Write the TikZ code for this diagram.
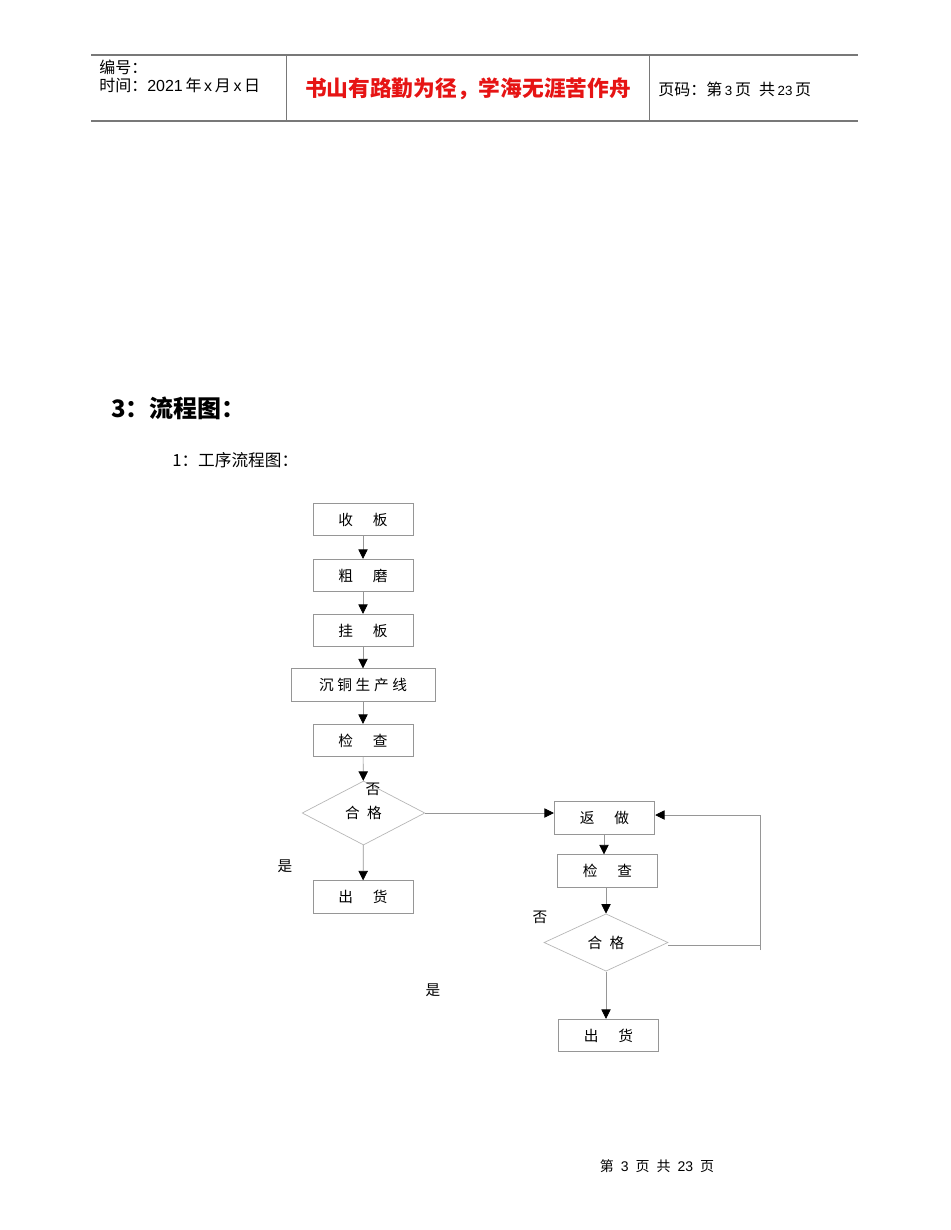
\documentclass[tikz,border=0pt]{standalone}
\usepackage{fontspec}
\setmainfont{Noto Sans CJK SC}
\newfontfamily\lat{Liberation Sans}
\usetikzlibrary{shapes.geometric,arrows.meta}
\definecolor{linegray}{RGB}{150,150,150}
\definecolor{hdrred}{RGB}{230,20,20}
\tikzset{
  px/.style={x=0.75pt,y=-0.75pt},
  stepbox/.style={draw=linegray,line width=0.6pt,minimum height=24.5pt,inner sep=0pt,font=\fontsize{11}{13}\selectfont},
  decis/.style={diamond,draw=linegray!70,line width=0.5pt,inner sep=0pt,font=\fontsize{11}{13}\selectfont},
  flow/.style={draw=linegray,line width=0.5pt,-{Triangle[length=7pt,width=7pt,color=black]}},
  plain/.style={draw=linegray,line width=0.5pt},
  lbl/.style={inner sep=0pt,font=\fontsize{11}{13}\selectfont},
  hdr/.style={inner sep=0pt,anchor=west,font=\fontsize{12}{14}\selectfont}
}
\begin{document}
\begin{tikzpicture}[px]
\useasboundingbox[fill=white] (0,0) rectangle (950,1230);
% header
\draw[linegray!80!black,line width=1pt] (91,55) -- (858,55);
\draw[linegray!80!black,line width=1pt] (91,121) -- (858,121);
\draw[linegray!80!black,line width=0.6pt] (286,55) -- (286,121);
\draw[linegray!80!black,line width=0.6pt] (649,55) -- (649,121);
\node[hdr] (h1) at (99,67) {编号：};
\node[hdr] (h2) at (99,85) {时间：{\lat 2021}\,年\,{\lat x}\,月\,{\lat x}\,日};
\node[inner sep=0pt,text=hdrred,font=\fontsize{16.3}{19}\selectfont\bfseries] (h3) at (468,89) {书山有路勤为径，学海无涯苦作舟};
\node[hdr] (h4) at (658,89) {页码：第\,{\lat\fontsize{10}{12}\selectfont 3}\,页\hspace{0.5em}共\,{\lat\fontsize{10}{12}\selectfont 23}\,页};
% headings
\node[inner sep=0pt,anchor=west,font=\fontsize{18}{22}\selectfont\bfseries] (t1) at (111,408) {3：流程图：};
\node[inner sep=0pt,anchor=west,font=\fontsize{12.5}{15}\selectfont] (t2) at (172,460) {1：工序流程图：};
% left column
\node[stepbox,minimum width=75pt] (a1) at (363,519.5) {收\hspace{1.35em}板};
\node[stepbox,minimum width=75pt] (a2) at (363,575.5) {粗\hspace{1.35em}磨};
\node[stepbox,minimum width=75pt] (a3) at (363,630.5) {挂\hspace{1.35em}板};
\node[stepbox,minimum width=108pt] (a4) at (363,685) {沉\hspace{0.25em}铜\hspace{0.25em}生\hspace{0.25em}产\hspace{0.25em}线};
\node[stepbox,minimum width=75pt] (a5) at (363,740.5) {检\hspace{1.35em}查};
\node[decis,minimum width=92pt,minimum height=48pt] (d1) at (363.5,813) {合\hspace{0.5em}格};
\node[stepbox,minimum width=75pt] (a6) at (363,897) {出\hspace{1.35em}货};
\node[lbl] (n1) at (373,789) {否};
\node[lbl] (y1) at (285,866) {是};
\draw[flow] (a1) -- (a2);
\draw[flow] (a2) -- (a3);
\draw[flow] (a3) -- (a4);
\draw[flow] (a4) -- (a5);
\draw[flow] (a5) -- (d1);
\draw[flow] (d1) -- (a6);
% right column
\node[stepbox,minimum width=75.5pt] (b1) at (604.5,818) {返\hspace{1.35em}做};
\node[stepbox,minimum width=75.5pt] (b2) at (607.5,871) {检\hspace{1.35em}查};
\node[decis,minimum width=93pt,minimum height=43pt] (d2) at (606,942.5) {合\hspace{0.5em}格};
\node[stepbox,minimum width=75.5pt] (b3) at (608.5,1035.5) {出\hspace{1.35em}货};
\node[lbl] (n2) at (540,917) {否};
\node[lbl] (y2) at (433,990) {是};
\coordinate (c1) at (760,945);
\coordinate (c2) at (760,815);
\coordinate (c3) at (760,950);
\draw[flow] (d1.east) -- (b1.west |- d1.east);
\draw[flow] (b1.south -| 604,0) -- (b2.north -| 604,0);
\draw[flow] (b2.south -| 606,0) -- (d2.north);
\draw[flow] (d2.south) -- (b3.north -| d2.south);
\draw[plain] (d2.east |- c1) -- (c1);
\draw[plain] (c3) -- (c2);
\draw[flow] (c2) -- (b1.east |- c2);
% footer
\node[inner sep=0pt,font=\fontsize{10.5}{12}\selectfont] (f1) at (657,1166) {第\hspace{0.5em}{\lat 3}\hspace{0.5em}页\hspace{0.5em}共\hspace{0.5em}{\lat 23}\hspace{0.5em}页};
\end{tikzpicture}
\end{document}
